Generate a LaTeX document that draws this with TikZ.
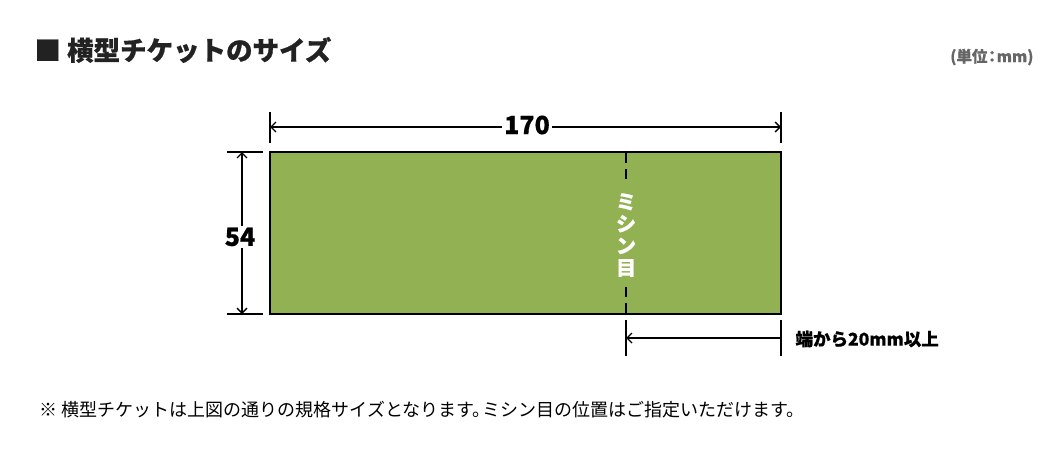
\documentclass[tikz,border=0pt]{standalone}
\usepackage{fontspec}
\setmainfont{Noto Sans CJK JP}
\newfontfamily\heavy{Noto Sans CJK JP}[BoldFeatures={FakeBold=0.6}]
\usetikzlibrary{arrows.meta}
\definecolor{ticketgreen}{HTML}{91B152}
\definecolor{titlegray}{HTML}{222222}
\definecolor{unitgray}{HTML}{666666}
\tikzset{
  dimline/.style={line width=1.6pt, {Straight Barb[length=5pt,width=10pt,line width=1.4pt]}-{Straight Barb[length=5pt,width=10pt,line width=1.4pt]}},
  dimleft/.style={line width=1.6pt, {Straight Barb[length=5pt,width=10pt,line width=1.4pt]}-},
  extline/.style={line width=1.2pt},
  perf/.style={line width=1.4pt, dash pattern=on 10pt off 6pt},
  dimlabel/.style={font=\heavy\fontsize{25}{25}\selectfont\bfseries, fill=white, inner sep=2pt},
}
\begin{document}
\begin{tikzpicture}[x=1pt,y=-1pt]
\useasboundingbox (0,0) rectangle (1050,450);
% title
\node[anchor=west, text=titlegray, font=\heavy\fontsize{26.5}{26}\selectfont\bfseries] (title) at (31,50) {■ 横型チケットのサイズ};
\node[anchor=east, text=unitgray, font=\heavy\fontsize{15.5}{15}\selectfont\bfseries] (unit) at (1037,57) {(単位\hspace{-0.2em}：\hspace{-0.2em}mm)};
% ticket
\fill[ticketgreen] (270,152) rectangle (781,314);
\draw[line width=1.5pt] (270,152) rectangle (781,314);
% perforation
\coordinate (p1) at (626,153);
\coordinate (p2) at (626,179);
\coordinate (p3) at (626,287);
\coordinate (p4) at (626,314);
\draw[perf] (p1) -- (p2);
\draw[perf] (p3) -- (p4);
\node[text=white, font=\heavy\fontsize{20}{22}\selectfont\bfseries, align=center, inner sep=0pt] (perflabel) at (626,235) {ミ\\シ\\ン\\目};
% top dimension
\coordinate (tx1a) at (270,112); \coordinate (tx1b) at (270,143);
\coordinate (tx2a) at (781,112); \coordinate (tx2b) at (781,143);
\draw[extline] (tx1a) -- (tx1b);
\draw[extline] (tx2a) -- (tx2b);
\coordinate (ta) at (270,127); \coordinate (tb) at (781,127);
\draw[dimline] (ta) -- (tb);
\node[dimlabel] (w) at (527,125) {170};
% left dimension
\coordinate (lx1a) at (227,152); \coordinate (lx1b) at (263,152);
\coordinate (lx2a) at (227,314); \coordinate (lx2b) at (263,314);
\draw[extline] (lx1a) -- (lx1b);
\draw[extline] (lx2a) -- (lx2b);
\coordinate (la) at (242,152); \coordinate (lb) at (242,314);
\draw[dimline] (la) -- (lb);
\node[dimlabel] (h) at (240,237) {54};
% bottom dimension
\coordinate (bx1a) at (626,320); \coordinate (bx1b) at (626,356);
\coordinate (bx2a) at (781,320); \coordinate (bx2b) at (781,356);
\draw[extline] (bx1a) -- (bx1b);
\draw[extline] (bx2a) -- (bx2b);
\coordinate (ba) at (626,338); \coordinate (bb) at (781,338);
\draw[dimleft] (ba) -- (bb);
\node[anchor=west, font=\heavy\fontsize{17.5}{18}\selectfont\bfseries] (edge) at (792,339) {端から20mm以上};
% footnote
\node[anchor=west, font=\fontsize{18}{18}\selectfont] (note) at (36,410) {※ 横型チケットは上図の通りの規格サイズとなります。\hspace{-0.45em}ミシン目の位置はご指定いただけます。};
\end{tikzpicture}
\end{document}
